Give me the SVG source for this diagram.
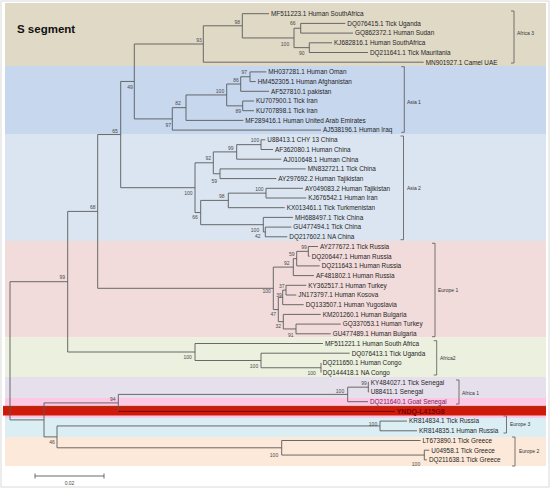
<svg xmlns="http://www.w3.org/2000/svg" width="550" height="488" viewBox="0 0 550 488">
<style>
.leaf{font-family:"Liberation Sans",Arial,sans-serif;font-size:6.4px;fill:#262626}
.bs{font-family:"Liberation Sans",Arial,sans-serif;font-size:5px;fill:#4a4a4a;text-anchor:middle}
.cl{font-family:"Liberation Sans",Arial,sans-serif;font-size:5px;fill:#333}
.br{fill:none;stroke:#5a5a5a;stroke-width:0.9}
.bk{fill:none;stroke:#555;stroke-width:0.8}
</style>
<rect x="1" y="1" width="548" height="486" fill="#ffffff" stroke="#d9d9d9" stroke-width="1"/>
<g id="bands">
<rect x="5" y="3" width="541" height="63" fill="#e0d9c6"/>
<rect x="5" y="66" width="541" height="68" fill="#c6d7ee"/>
<rect x="5" y="134" width="541" height="107" fill="#dbe5f1"/>
<rect x="5" y="241" width="541" height="96.5" fill="#f2dcdb"/>
<rect x="5" y="337.5" width="541" height="39.5" fill="#ebf1de"/>
<rect x="5" y="377" width="541" height="21" fill="#e6e0ec"/>
<rect x="5" y="398" width="541" height="20" fill="#fcc8e4"/>
<rect x="3" y="406" width="543" height="9.5" fill="#cf1a0a"/>
<line x1="3" y1="406.3" x2="546" y2="406.3" stroke="#8a4a20" stroke-width="0.7"/>
<rect x="5" y="418" width="541" height="19" fill="#dbeef4"/>
<rect x="5" y="437" width="541" height="29" fill="#fde9d9"/>
</g>
<text x="17" y="32.5" font-family="Liberation Sans, Arial, sans-serif" font-size="11.5" font-weight="bold" fill="#111">S segment</text>
<g id="connectors" class="br">
<path d="M345.3 23.4 H300.7 V33.1 H353"/>
<path d="M332 42.8 H309.3 V52.5 H368"/>
<path d="M300.7 28.25 H294 V47.65 H309.3"/>
<path d="M269 13.7 H242.3 V37.95 H294"/>
<path d="M242.3 25.8 H203.3 V62.2 H423.7"/>
<path d="M266.3 71.9 H250 V81.6 H255.7"/>
<path d="M250 76.75 H240.7 V91.3 H269"/>
<path d="M254 101 H242.7 V110.7 H254"/>
<path d="M240.7 84.03 H226.7 V105.85 H242.7"/>
<path d="M226.7 94.94 H186 V120.4 H243.3"/>
<path d="M186 107.67 H172.3 V130.1 H321"/>
<path d="M203.3 44 H134.3 V118.9 H172.3"/>
<path d="M265.3 139.8 H261 V149.5 H273"/>
<path d="M261 144.65 H236.7 V159.2 H281.3"/>
<path d="M305.7 168.9 H220 V178.6 H276.3"/>
<path d="M236.7 151.9 H213.3 V173.75 H220"/>
<path d="M303 188.3 H266 V198 H306.3"/>
<path d="M266 193.15 H228.3 V207.7 H284.7"/>
<path d="M291.3 227.1 H265.3 V236.8 H287.3"/>
<path d="M293 217.4 H263.3 V231.95 H265.3"/>
<path d="M228.3 200.4 H200.7 V224.7 H263.3"/>
<path d="M213.3 162.8 H195 V212.55 H200.7"/>
<path d="M134.3 81.45 H120.7 V187.7 H195"/>
<path d="M318 246.5 H308.3 V256.2 H309.7"/>
<path d="M308.3 251.35 H296.7 V265.9 H319.7"/>
<path d="M296.7 258.6 H293.3 V275.6 H314"/>
<path d="M306.3 285.3 H286 V295 H296.3"/>
<path d="M286 290.15 H282.7 V304.7 H303.7"/>
<path d="M340.7 324.1 H296 V333.8 H330.7"/>
<path d="M320.7 314.4 H283.3 V328.95 H296"/>
<path d="M282.7 297.4 H278.3 V321.7 H283.3"/>
<path d="M293.3 267.1 H273.3 V309.55 H278.3"/>
<path d="M120.7 134.55 H97.7 V288.3 H273.3"/>
<path d="M321 362.9 V372.6"/>
<path d="M349.7 353.2 H261 V367.75 H321"/>
<path d="M323 343.5 H195 V360.5 H261"/>
<path d="M97.7 211.4 H67.7 V352 H195"/>
<path d="M369 382.3 H368.3 V392 H369"/>
<path d="M368.3 387.15 H347.7 V401.7 H368"/>
<path d="M347.7 394.4 H118.3 V411.4"/>
<path d="M118.3 411.4 H394.7" stroke="#6a0000"/>
<path d="M407 421.1 H380 V430.8 H417"/>
<path d="M429.3 450.2 H424.3 V459.9 H426.9"/>
<path d="M420.5 440.5 H281.7 V455.05 H424.3"/>
<path d="M380 425.95 H57 V447.8 H281.7"/>
<path d="M118.3 402.9 H44 V436.9 H57"/>
<path d="M67.7 281.7 H10 V419.9 H44"/>
<path d="M35 476 H104 M35 473.5 V478.5 M104 473.5 V478.5"/>
</g>
<text class="bs" x="69.5" y="484.5">0.02</text>
<g id="leaves" class="leaf">
<text id="n0" x="271" y="16">MF511223.1 Human SouthAfrica</text>
<text id="n1" x="347.3" y="25.7">DQ076415.1 Tick Uganda</text>
<text id="n2" x="355" y="35.4">GQ862372.1 Human Sudan</text>
<text id="n3" x="334" y="45.1">KJ682816.1 Human SouthAfrica</text>
<text id="n4" x="370" y="54.8">DQ211641.1 Tick Mauritania</text>
<text id="n5" x="425.7" y="64.5">MN901927.1 Camel UAE</text>
<text id="n6" x="268.3" y="74.2">MH037281.1 Human Oman</text>
<text id="n7" x="257.7" y="83.9">HM452305.1 Human Afghanistan</text>
<text id="n8" x="271" y="93.6">AF527810.1 pakistan</text>
<text id="n9" x="256" y="103.3">KU707900.1 Tick Iran</text>
<text id="n10" x="256" y="113">KU707898.1 Tick Iran</text>
<text id="n11" x="245.3" y="122.7">MF289416.1 Human United Arab Emirates</text>
<text id="n12" x="323" y="132.4">AJ538196.1 Human Iraq</text>
<text id="n13" x="267.3" y="142.1">U88413.1 CHY 13 China</text>
<text id="n14" x="275" y="151.8">AF362080.1 Human China</text>
<text id="n15" x="283.3" y="161.5">AJ010648.1 Human China</text>
<text id="n16" x="307.7" y="171.2">MN832721.1 Tick China</text>
<text id="n17" x="278.3" y="180.9">AY297692.2 Human Tajikistan</text>
<text id="n18" x="305" y="190.6">AY049083.2 Human Tajikistan</text>
<text id="n19" x="308.3" y="200.3">KJ676542.1 Human Iran</text>
<text id="n20" x="286.7" y="210">KX013461.1 Tick Turkmenistan</text>
<text id="n21" x="295" y="219.7">MH688497.1 Tick China</text>
<text id="n22" x="293.3" y="229.4">GU477494.1 Tick China</text>
<text id="n23" x="289.3" y="239.1">DQ217602.1 NA China</text>
<text id="n24" x="320" y="248.8">AY277672.1 Tick Russia</text>
<text id="n25" x="311.7" y="258.5">DQ206447.1 Human Russia</text>
<text id="n26" x="321.7" y="268.2">DQ211643.1 Human Russia</text>
<text id="n27" x="316" y="277.9">AF481802.1 Human Russia</text>
<text id="n28" x="308.3" y="287.6">KY362517.1 Human Turkey</text>
<text id="n29" x="298.3" y="297.3">JN173797.1 Human Kosova</text>
<text id="n30" x="305.7" y="307">DQ133507.1 Human Yugoslavia</text>
<text id="n31" x="322.7" y="316.7">KM201260.1 Human Bulgaria</text>
<text id="n32" x="342.7" y="326.4">GQ337053.1 Human Turkey</text>
<text id="n33" x="332.7" y="336.1">GU477489.1 Human Bulgaria</text>
<text id="n34" x="325" y="345.8">MF511221.1 Human South Africa</text>
<text id="n35" x="351.7" y="355.5">DQ076413.1 Tick Uganda</text>
<text id="n36" x="322.7" y="365.2">DQ211650.1 Human Congo</text>
<text id="n37" x="322.7" y="374.9">DQ144418.1 NA Congo</text>
<text id="n38" x="370.7" y="384.6">KY484027.1 Tick Senegal</text>
<text id="n39" x="370.7" y="394.3">U88411.1 Senegal</text>
<text id="n40" x="370" y="404" fill="#7b2060">DQ211640.1 Goat Senegal</text>
<text id="n41" x="396.7" y="413.9" fill="#7a0000" font-weight="bold" font-size="7">YNDQ-L415G8</text>
<text id="n42" x="409" y="423.4">KR814834.1 Tick Russia</text>
<text id="n43" x="419" y="433.1">KR814835.1 Human Russia</text>
<text id="n44" x="422.5" y="442.8">LT673890.1 Tick Greece</text>
<text id="n45" x="431.3" y="452.5">U04958.1 Tick Greece</text>
<text id="n46" x="428.9" y="462.2">DQ211638.1 Tick Greece</text>
</g>
<g id="bootstrap" class="bs">
<text x="237.3" y="23.5">98</text>
<text x="199" y="41.8">93</text>
<text x="292.7" y="25.1">66</text>
<text x="285" y="45.8">100</text>
<text x="301.7" y="54.5">90</text>
<text x="244.3" y="73.8">97</text>
<text x="236" y="81.8">86</text>
<text x="220" y="92.8">100</text>
<text x="238.3" y="112.5">89</text>
<text x="178" y="104.8">82</text>
<text x="168.3" y="126.8">97</text>
<text x="130" y="88.5">49</text>
<text x="115" y="132.5">65</text>
<text x="255" y="141.8">100</text>
<text x="230.7" y="150.1">99</text>
<text x="208.3" y="160.1">92</text>
<text x="214.3" y="182.8">59</text>
<text x="188.3" y="194.8">100</text>
<text x="259.3" y="191.1">100</text>
<text x="221.7" y="197.8">98</text>
<text x="195" y="219.1">66</text>
<text x="255" y="231.8">100</text>
<text x="257.7" y="237.8">42</text>
<text x="92.7" y="209.1">68</text>
<text x="304" y="248.5">99</text>
<text x="291.7" y="256.1">59</text>
<text x="286.7" y="264.5">92</text>
<text x="281.7" y="287.5">37</text>
<text x="266.7" y="292.8">100</text>
<text x="279" y="296.8">39</text>
<text x="273.3" y="316.1">47</text>
<text x="278.3" y="327.8">32</text>
<text x="290.7" y="336.8">91</text>
<text x="62.3" y="279.1">99</text>
<text x="187.7" y="359.1">100</text>
<text x="254" y="367.5">100</text>
<text x="311.7" y="374.5">100</text>
<text x="364" y="384.5">99</text>
<text x="340" y="392.8">100</text>
<text x="112.7" y="401.1">94</text>
<text x="373" y="425.8">100</text>
<text x="52" y="443.8">46</text>
<text x="274" y="456.8">100</text>
<text x="416" y="465.8">100</text>
</g>
<g id="clades">
<g id="africa3"><path class="bk" d="M511 11 H514 V63 H511"/><text class="cl" x="517" y="34.8">Africa 3</text></g>
<g id="asia1"><path class="bk" d="M401.3 66.7 H404.3 V132.3 H401.3"/><text class="cl" x="407" y="104.1">Asia 1</text></g>
<g id="asia2"><path class="bk" d="M400.5 136 H403.5 V239.7 H400.5"/><text class="cl" x="407" y="189.5">Asia 2</text></g>
<g id="europe1"><path class="bk" d="M432 243.3 H435 V336.7 H432"/><text class="cl" x="438" y="292.1">Europe 1</text></g>
<g id="africa2"><path class="bk" d="M433.7 340.7 H436.7 V375 H433.7"/><text class="cl" x="440" y="359.5">Africa2</text></g>
<g id="africa1"><path class="bk" d="M456 380 H459 V404 H456"/><text class="cl" x="462" y="394.5">Africa 1</text></g>
<g id="europe3"><path class="bk" d="M503.5 416 H506.5 V433 H503.5"/><text class="cl" x="510" y="425.8">Europe 3</text></g>
<g id="europe2"><path class="bk" d="M512 437 H515 V466 H512"/><text class="cl" x="519" y="452.8">Europe 2</text></g>
</g>
</svg>
